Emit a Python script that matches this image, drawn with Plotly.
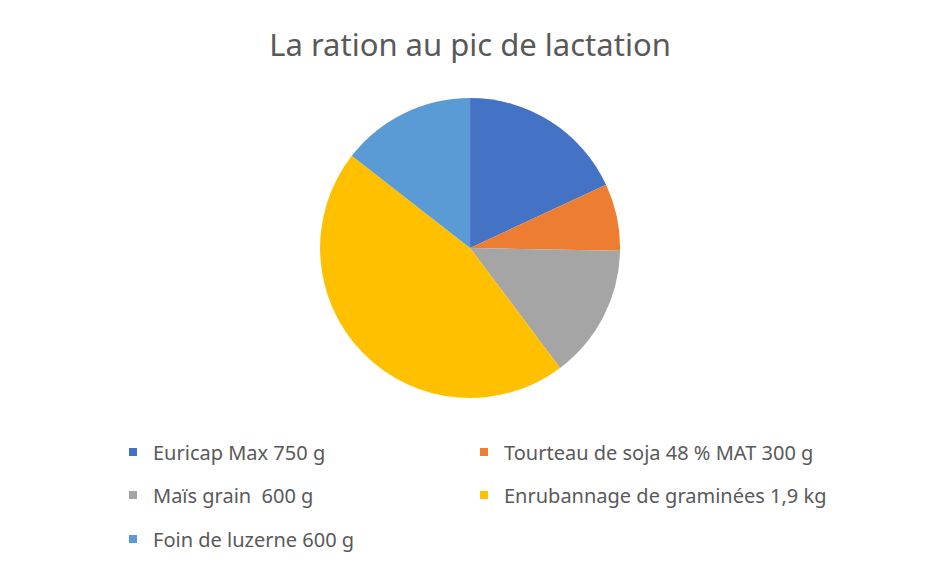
import plotly.graph_objects as go

# ration ingredients (grams)
labels = ['Euricap Max 750 g', 'Tourteau de soja 48 % MAT 300 g', 'Maïs grain  600 g',
          'Enrubannage de graminées 1,9 kg', 'Foin de luzerne 600 g']
grams = [750, 300, 600, 1900, 600]
colors = ['#4472C4', '#ED7D31', '#A5A5A5', '#FFC000', '#5B9BD5']

# the page puts an 8 px body margin round the plot, so the figure is 16 px smaller
W, H = 926, 560

fig = go.Figure()
fig.add_trace(go.Pie(labels=labels, values=grams, sort=False, direction='clockwise',
                     rotation=0, textinfo='none', hoverinfo='label+percent', showlegend=False,
                     marker=dict(colors=colors, line=dict(width=0)),
                     domain=dict(x=[0.0, 0.998], y=[1 - 390 / H, 1 - 90 / H])))

# legend laid out in two columns: one small legend per entry
row_y = [444, 487, 531]
col_x = [105, 456]
legends = {}
for i, (lab, col) in enumerate(zip(labels, colors)):
    key = 'legend' if i == 0 else 'legend%d' % (i + 1)
    fig.add_trace(go.Scatter(x=[None], y=[None], mode='markers', name=lab,
                             marker=dict(symbol='square', size=8, color=col),
                             legend=key))
    legends[key] = dict(orientation='h', x=col_x[i % 2] / W, xanchor='left',
                        y=1 - row_y[i // 2] / H, yanchor='middle',
                        font=dict(size=20, color='#595959'), bgcolor='rgba(0,0,0,0)')

fig.update_layout(
    width=W, height=H,
    margin=dict(l=0, r=0, t=0, b=0),
    paper_bgcolor='white', plot_bgcolor='white',
    font=dict(family='Noto Sans', color='#595959'),
    title=dict(text='La ration au pic de lactation', x=462 / W, xanchor='center',
               y=1 - 37 / H, yanchor='middle', font=dict(size=31, color='#595959')),
    xaxis=dict(visible=False), yaxis=dict(visible=False),
    **legends,
)

fig.write_html("out.html")
